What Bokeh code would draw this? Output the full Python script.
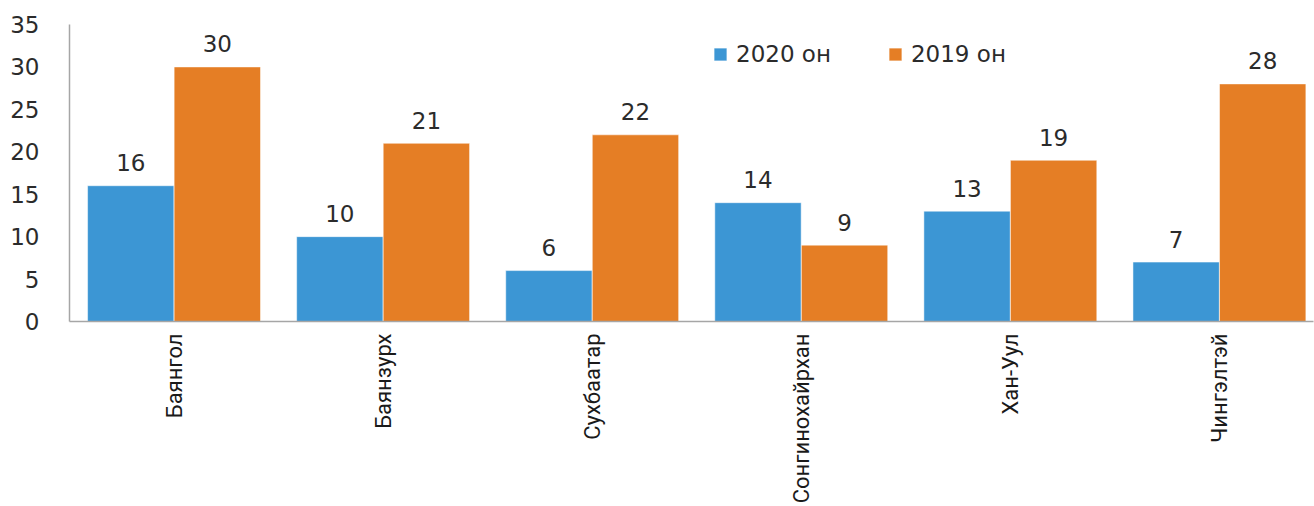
import math
from bokeh.plotting import figure
from bokeh.models import ColumnDataSource, Range1d, FixedTicker, Legend, LegendItem
from bokeh.transform import dodge
from bokeh.core.properties import value
from bokeh.embed import file_html
from bokeh.resources import INLINE

districts = ["Баянгол", "Баянзурх", "Сухбаатар", "Сонгинохайрхан", "Хан-Уул", "Чингэлтэй"]
values_2020 = [16, 10, 6, 14, 13, 7]
values_2019 = [30, 21, 22, 9, 19, 28]
series_labels = ["2020 он", "2019 он"]
y_ticks = [0, 5, 10, 15, 20, 25, 30, 35]

BLUE = "#3C96D4"
ORANGE = "#E57E25"
AXIS = "#A6A6A6"
TXT = "#2B2B2B"
FONT = "DejaVu Sans"

xpos = [i + 0.5 for i in range(len(districts))]

src = ColumnDataSource(dict(
    x=xpos,
    v20=values_2020,
    v19=values_2019,
    t20=[str(v) for v in values_2020],
    t19=[str(v) for v in values_2019],
))

p = figure(
    width=1314, height=506,
    x_range=Range1d(0, 5.95),
    y_range=Range1d(0, 35),
    output_backend="svg", toolbar_location=None,
    min_border_left=69, min_border_right=1, min_border_top=24, min_border_bottom=10,
)
p.outline_line_color = None
p.xgrid.grid_line_color = None
p.ygrid.grid_line_color = None

bw = 0.413
off = 0.207
r20 = p.vbar(x=dodge("x", -off), top="v20", width=bw, source=src,
             fill_color=BLUE, line_color="white", line_width=0.5)
r19 = p.vbar(x=dodge("x", off), top="v19", width=bw, source=src,
             fill_color=ORANGE, line_color="white", line_width=0.5)

p.text(x=dodge("x", -off), y="v20", text="t20", source=src,
       text_align="center", text_baseline="alphabetic", y_offset=-23,
       text_font=value(FONT), text_font_size="23px", text_color=TXT)
p.text(x=dodge("x", off), y="v19", text="t19", source=src,
       text_align="center", text_baseline="alphabetic", y_offset=-23,
       text_font=value(FONT), text_font_size="23px", text_color=TXT)

# y axis
p.yaxis.ticker = FixedTicker(ticks=y_ticks)
p.yaxis.major_tick_line_color = None
p.yaxis.minor_tick_line_color = None
p.yaxis.axis_line_color = AXIS
p.yaxis.axis_line_width = 1.5
p.yaxis.major_label_standoff = 24
p.yaxis.major_label_text_font = FONT
p.yaxis.major_label_text_font_size = "23px"
p.yaxis.major_label_text_color = TXT

# x axis
p.xaxis.ticker = FixedTicker(ticks=xpos)
p.xaxis.major_label_overrides = {x: d for x, d in zip(xpos, districts)}
p.xaxis.major_tick_line_color = None
p.xaxis.minor_tick_line_color = None
p.xaxis.axis_line_color = AXIS
p.xaxis.axis_line_width = 1.5
p.xaxis.major_label_orientation = math.pi / 2
p.xaxis.major_label_standoff = 6
p.xaxis.major_label_text_font = "Roboto"
p.xaxis.major_label_text_font_size = "22px"
p.xaxis.major_label_text_color = "#1A1A1A"

legend = Legend(
    items=[LegendItem(label=series_labels[0], renderers=[r20]),
           LegendItem(label=series_labels[1], renderers=[r19])],
    orientation="horizontal",
    location=(643, 254),
    glyph_width=16, glyph_height=16, label_height=24,
    label_standoff=8, spacing=56, padding=0, margin=0,
    border_line_color=None, background_fill_alpha=0,
    label_text_font=FONT, label_text_font_size="23px", label_text_color=TXT,
)
p.add_layout(legend)

open("out.html", "w").write(file_html(p, INLINE))
